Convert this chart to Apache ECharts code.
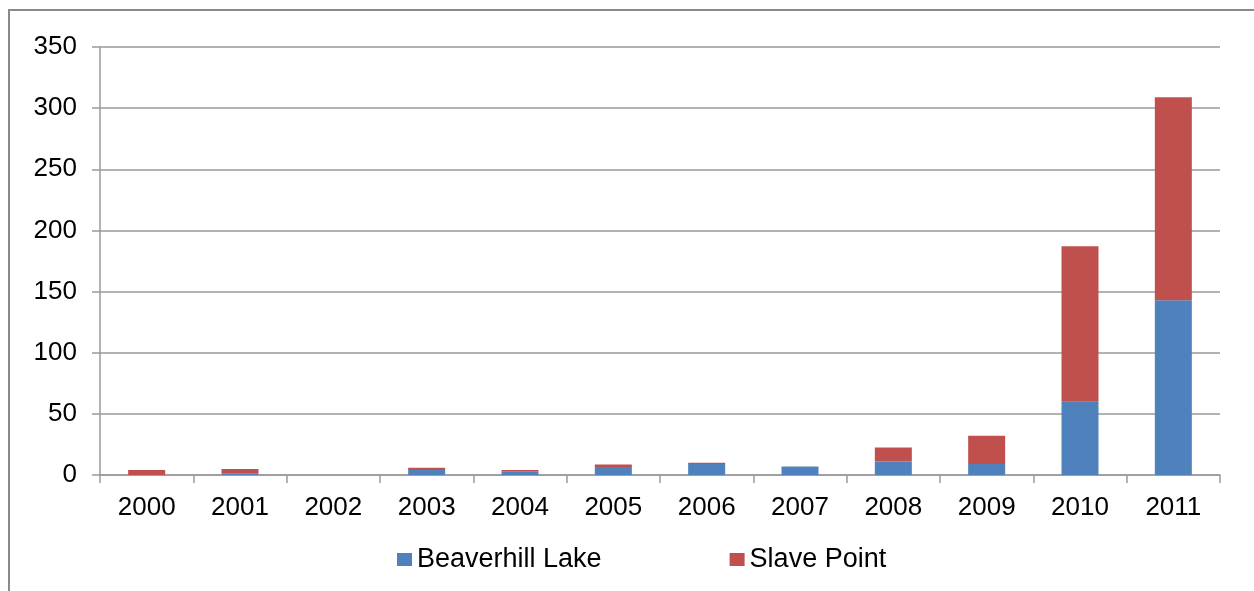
<!DOCTYPE html>
<html>
<head>
<meta charset="utf-8">
<script src="https://cdn.jsdelivr.net/npm/echarts@6/dist/echarts.min.js"></script>
<style>
html,body{margin:0;padding:0;background:#fff;}
#c{width:1254px;height:591px;}
</style>
</head>
<body>
<div id="c"></div>
<script>
const categories = ['2000','2001','2002','2003','2004','2005','2006','2007','2008','2009','2010','2011'];
const beaverhillLake = [0, 1, 0, 4, 3, 6.5, 9, 7, 11, 9, 60, 143];
const slavePoint = [4, 4, 0, 2, 1, 2, 1, 0, 11.5, 23, 127, 166];
const yTicks = [0, 50, 100, 150, 200, 250, 300, 350];

const chart = echarts.init(document.getElementById('c'), null, {renderer:'canvas'});
const font = 'Liberation Sans, Arial, sans-serif';
chart.setOption({
  animation: false,
  backgroundColor: '#fff',
  graphic: [{
    type: 'rect', silent: true,
    shape: {x: 9, y: 10, width: 1400, height: 800},
    style: {fill: 'none', stroke: '#8a8a8a', lineWidth: 2}
  }],
  grid: {left: 100, right: 34, top: 47, bottom: 116},
  legend: {
    left: 397, top: 546, padding: 0,
    itemWidth: 15, itemHeight: 13, itemGap: 128,
    icon: 'rect',
    textStyle: {fontFamily: font, fontSize: 27, color: '#000'},
    data: ['Beaverhill Lake', 'Slave Point']
  },
  xAxis: {
    type: 'category', data: categories,
    axisLine: {lineStyle: {color: '#9a9a9a', width: 1.5}},
    axisTick: {show: true, length: 8, lineStyle: {color: '#9a9a9a', width: 1.5}},
    axisLabel: {fontFamily: font, fontSize: 26, color: '#000', margin: 20}
  },
  yAxis: {
    type: 'value', min: yTicks[0], max: yTicks[yTicks.length-1], interval: 50,
    axisLine: {show: true, lineStyle: {color: '#9a9a9a', width: 1.5}},
    axisTick: {show: true, length: 8, lineStyle: {color: '#9a9a9a', width: 1.5}},
    splitLine: {lineStyle: {color: '#9a9a9a', width: 1.5}},
    axisLabel: {fontFamily: font, fontSize: 26, color: '#000', margin: 23}
  },
  series: [
    {name: 'Beaverhill Lake', type: 'bar', stack: 'a', data: beaverhillLake, barWidth: 37,
     itemStyle: {color: '#4F81BD'}},
    {name: 'Slave Point', type: 'bar', stack: 'a', data: slavePoint, barWidth: 37,
     itemStyle: {color: '#C0504D'}}
  ]
});
</script>
</body>
</html>
